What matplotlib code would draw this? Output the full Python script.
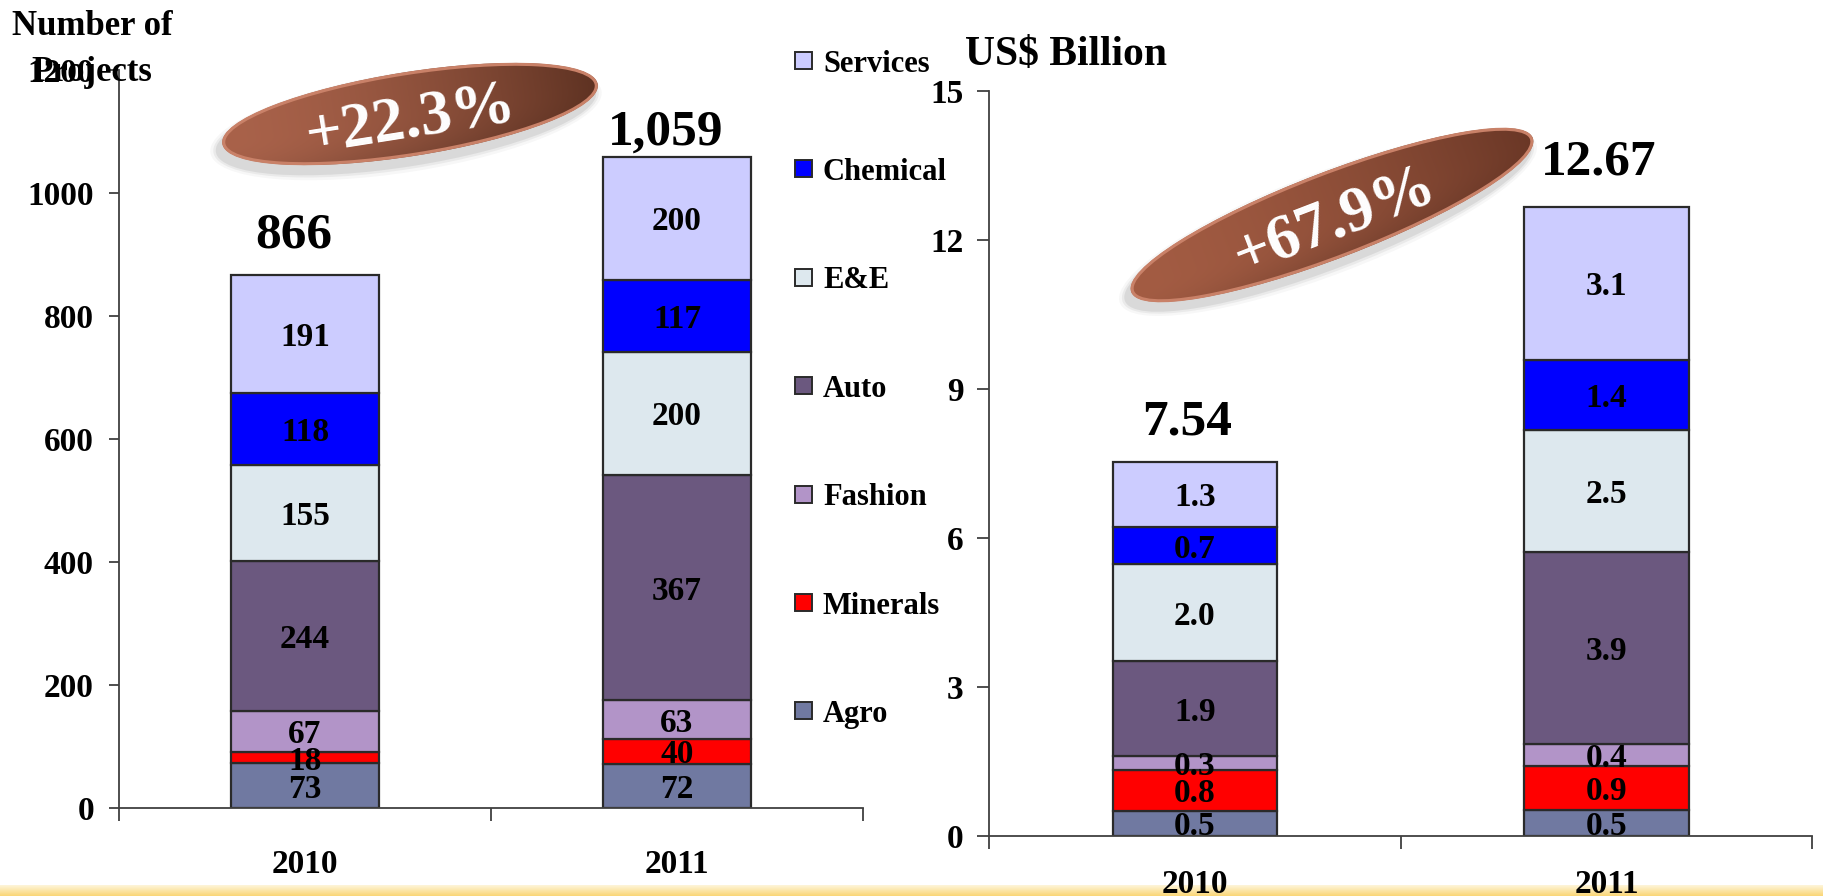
import numpy as np
import matplotlib
matplotlib.use('Agg')
import matplotlib.pyplot as plt
from matplotlib.patches import Ellipse, Rectangle
from matplotlib.colors import to_rgb

plt.rcParams['font.family'] = ['Liberation Serif', 'DejaVu Serif']
plt.rcParams['font.weight'] = 'bold'

# ---------------- data ----------------
years = ['2010', '2011']
sectors = ['Agro', 'Minerals', 'Fashion', 'Auto', 'E&E', 'Chemical', 'Services']
colors = ['#7079A1', '#FF0000', '#B294C8', '#6B587F', '#DDE8EE', '#0000FF', '#CCCCFF']

projects_2010 = [73, 18, 67, 244, 155, 118, 191]
projects_2011 = [72, 40, 63, 367, 200, 117, 200]
invest_2010 = [0.52, 0.82, 0.28, 1.90, 1.96, 0.74, 1.32]
invest_2011 = [0.54, 0.87, 0.44, 3.87, 2.46, 1.41, 3.08]

projects_total_labels = ['866', '1,059']
invest_total_labels = ['7.54', '12.67']
growth_labels = ['+22.3%', '+67.9%']

proj_ticks = [0, 200, 400, 600, 800, 1000, 1200]
inv_ticks = [0, 3, 6, 9, 12, 15]

# ---------------- figure ----------------
W, H = 1824, 896
fig = plt.figure(figsize=(W / 100, H / 100), dpi=100)
fig.patch.set_facecolor('white')

spine_c = '#404040'
edge_c = '#2a2a2a'


def setup_axes(ax, ticks, ylim, ytick_len, ypad, xtick_len):
    ax.set_facecolor('none')
    ax.set_xlim(0, 2)
    ax.set_ylim(*ylim)
    for s in ['top', 'right']:
        ax.spines[s].set_visible(False)
    for s in ['left', 'bottom']:
        ax.spines[s].set_color(spine_c)
        ax.spines[s].set_linewidth(1.3)
    ax.set_yticks(ticks)
    ax.set_yticklabels([str(t) for t in ticks])
    ax.tick_params(axis='y', direction='out', length=ytick_len, width=1.3,
                   color=spine_c, pad=ypad, labelsize=24)
    ax.set_xticks([0, 1, 2])
    ax.set_xticklabels([])
    ax.tick_params(axis='x', direction='out', length=xtick_len, width=1.3,
                   color=spine_c)
    for lab in ax.get_yticklabels():
        lab.set_fontweight('bold')


def stacked(ax, series, fmt):
    x = np.array([0.5, 1.5])
    vals = np.array(series, dtype=float)
    bottoms = np.zeros(len(x))
    for j, c in enumerate(colors):
        v = vals[:, j]
        ax.bar(x, v, 0.4, bottom=bottoms, color=c, edgecolor=edge_c,
               linewidth=1.6, zorder=2)
        for xi, vi, bi in zip(x, v, bottoms):
            ax.text(xi, bi + vi / 2, fmt(vi), ha='center', va='center_baseline',
                    fontsize=24, fontweight='bold', zorder=3)
        bottoms = bottoms + v
    return x, bottoms


# left chart: number of projects
axL = fig.add_axes([119 / W, 1 - 808 / H, 744 / W, 738 / H])
setup_axes(axL, proj_ticks, (0, 1200), 7, 11, 9)
xL, totL = stacked(axL, [projects_2010, projects_2011], lambda v: f'{int(round(v))}')
offL = [33, 21]
for xi, ti, lab, o in zip(xL, totL, projects_total_labels, offL):
    axL.annotate(lab, xy=(xi - 0.03, ti), xytext=(0, o), textcoords='offset points',
                 ha='center', va='center_baseline', fontsize=37, fontweight='bold')
for xi, yr in zip(xL, years):
    axL.annotate(yr, xy=(xi, 0), xycoords=('data', 'axes fraction'),
                 xytext=(0, -38), textcoords='offset points',
                 ha='center', va='center_baseline', fontsize=24, fontweight='bold')

# right chart: investment
axR = fig.add_axes([989 / W, 1 - 836.4 / H, 823.5 / W, 745.7 / H])
setup_axes(axR, inv_ticks, (0, 15), 8.5, 10, 9)
xR, totR = stacked(axR, [invest_2010, invest_2011], lambda v: f'{v:.1f}')
offR = [32, 36]
for xi, ti, lab, o in zip(xR, totR, invest_total_labels, offR):
    axR.annotate(lab, xy=(xi - 0.02, ti), xytext=(0, o), textcoords='offset points',
                 ha='center', va='center_baseline', fontsize=37, fontweight='bold')
for xi, yr in zip(xR, years):
    axR.annotate(yr, xy=(xi, 0), xycoords=('data', 'axes fraction'),
                 xytext=(0, -32), textcoords='offset points',
                 ha='center', va='center_baseline', fontsize=24, fontweight='bold',
                 zorder=20)

# ---------------- background band ----------------
bg = fig.add_axes([0, 0, 1, 1], zorder=-1)
bg.set_xlim(0, W)
bg.set_ylim(H, 0)
bg.axis('off')
band = np.linspace(0, 1, 40)[:, None]
c_top, c_bot = np.array(to_rgb('#FEF5DA')), np.array(to_rgb('#FAD676'))
band_img = (c_top[None, None, :] * (1 - band[..., None]) + c_bot[None, None, :] * band[..., None])
band_img = np.repeat(band_img, 2, axis=1)
bg.imshow(band_img, extent=[0, W, H, 885], origin='upper', aspect='auto',
          interpolation='bilinear')

# ---------------- overlay: titles, legend, badges ----------------
ov = fig.add_axes([0, 0, 1, 1], zorder=10)
ov.set_xlim(0, W)
ov.set_ylim(H, 0)
ov.axis('off')
ov.set_facecolor('none')

ov.text(92, 35, 'Number of', ha='center', va='baseline', fontsize=25, fontweight='bold')
ov.text(92, 81, 'Projects', ha='center', va='baseline', fontsize=25, fontweight='bold')
ov.text(965, 65, 'US$ Billion', ha='left', va='baseline', fontsize=30, fontweight='bold')

# legend (top to bottom: Services ... Agro)
for i, (name, c) in enumerate(zip(sectors[::-1], colors[::-1])):
    yc = 60.5 + i * 108.4
    ov.add_patch(Rectangle((795, yc - 8.5), 17, 17, facecolor=c, edgecolor=edge_c, lw=1.4))
    ov.text(823, yc, name, ha='left', va='center_baseline', fontsize=22, fontweight='bold')


def badge(ax, cx, cy, w, h, ang, text, fs, c1, c2):
    t = np.deg2rad(ang)
    for k, a in [(16, 0.03), (10, 0.05), (5, 0.07)]:
        ax.add_patch(Ellipse((cx - 4, cy + 8), w + k, h + k, angle=-ang,
                             fc='black', alpha=a, ec='none'))
    clip = Ellipse((cx, cy), w, h, angle=-ang, fc='none', ec='none')
    ax.add_patch(clip)
    hw = np.sqrt((w / 2 * np.cos(t)) ** 2 + (h / 2 * np.sin(t)) ** 2) + 2
    hh = np.sqrt((w / 2 * np.sin(t)) ** 2 + (h / 2 * np.cos(t)) ** 2) + 2
    xs = np.linspace(cx - hw, cx + hw, 400)
    ys = np.linspace(cy - hh, cy + hh, 200)
    X, Y = np.meshgrid(xs, ys)
    u = ((X - cx) * np.cos(t) - (Y - cy) * np.sin(t)) / (w / 2)
    v = ((X - cx) * np.sin(t) + (Y - cy) * np.cos(t)) / (h / 2)
    s = np.clip((u + 1) / 2, 0, 1)[..., None]
    a1 = np.array(to_rgb(c1))
    a2 = np.array(to_rgb(c2))
    img = a1 * (1 - s ** 1.6) + a2 * s ** 1.6
    shade = np.clip(1 - 0.12 * np.clip(v, 0, 1) ** 2, 0, 1)[..., None]
    img = np.clip(img * shade, 0, 1)
    im = ax.imshow(img, extent=[cx - hw, cx + hw, cy + hh, cy - hh], origin='upper',
                   aspect='auto', interpolation='bilinear', zorder=2)
    im.set_clip_path(clip)
    ax.add_patch(Ellipse((cx, cy), w - 3, h - 3, angle=-ang, fc='none',
                         ec='#C98168', lw=2.2, zorder=3))
    ax.text(cx, cy, text, rotation=ang, rotation_mode='anchor', color='white',
            fontsize=fs, fontweight='bold', ha='center', va='center_baseline', zorder=4)


badge(ov, 410, 114, 380, 84, 9, growth_labels[0], 46, '#A9624A', '#5E3222')
badge(ov, 1332, 215, 430, 86, 21, growth_labels[1], 46, '#A35C43', '#6A3726')

fig.savefig('out.png', dpi=100, facecolor='white')
